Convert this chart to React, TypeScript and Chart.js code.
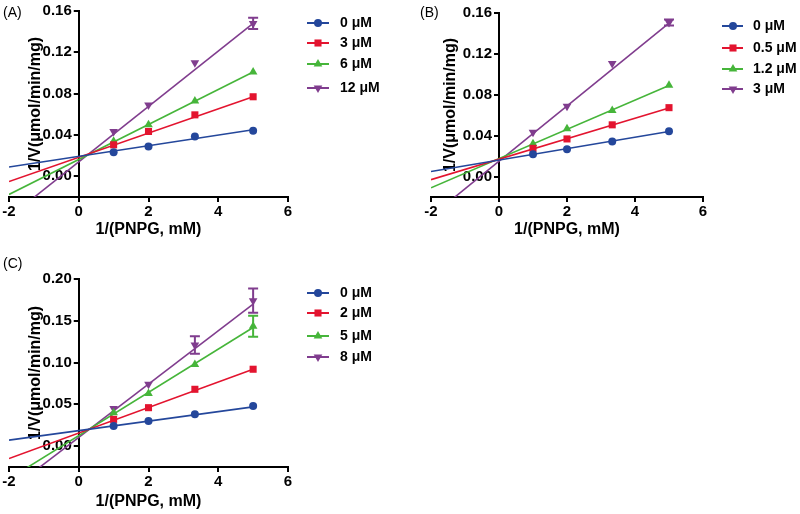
import React, { useEffect, useRef } from 'react';
import { Chart, registerables } from 'chart.js';
import { drawPoint } from 'chart.js/helpers';

Chart.register(...registerables);

const FONT = '"Liberation Sans", Arial, Helvetica, sans-serif';

// shared x values
const xPoints = [1, 2, 3.33, 5];
const fitX = [-2, 5];
const xTicks = [-2, 0, 2, 4, 6];

// Panel A
const labelsA = ['0 μM', '3 μM', '6 μM', '12 μM'];
const yA0 = [0.0234, 0.0289, 0.0386, 0.044];
const yA3 = [0.0305, 0.0434, 0.0595, 0.077];
const yA6 = [0.034, 0.05, 0.073, 0.101];
const yA12 = [0.0434, 0.069, 0.11, 0.148];
const errA12 = [0, 0, 0, 0.0055];
const fitA0 = [0.009, 0.045];
const fitA3 = [-0.005, 0.077];
const fitA6 = [-0.0175, 0.101];
const fitA12 = [-0.0396, 0.148];
const yTicksA = [0, 0.04, 0.08, 0.12, 0.16];

// Panel B
const labelsB = ['0 μM', '0.5 μM', '1.2 μM', '3 μM'];
const yB0 = [0.0217, 0.0266, 0.0342, 0.0443];
const yB05 = [0.0276, 0.0368, 0.0506, 0.0674];
const yB12 = [0.032, 0.0467, 0.0647, 0.0894];
const yB3 = [0.0433, 0.0687, 0.1107, 0.1507];
const errB3 = [0, 0, 0, 0.003];
const fitB0 = [0.005, 0.044];
const fitB05 = [-0.003, 0.067];
const fitB12 = [-0.011, 0.089];
const fitB3 = [-0.039, 0.15];
const yTicksB = [0, 0.04, 0.08, 0.12, 0.16];

// Panel C
const labelsC = ['0 μM', '2 μM', '5 μM', '8 μM'];
const yC0 = [0.024, 0.03, 0.038, 0.048];
const yC2 = [0.032, 0.046, 0.068, 0.092];
const yC5 = [0.04, 0.063, 0.0978, 0.1435];
const yC8 = [0.045, 0.074, 0.121, 0.174];
const errC5 = [0, 0, 0, 0.0125];
const errC8 = [0, 0, 0.0105, 0.0145];
const fitC0 = [0.0072, 0.047];
const fitC2 = [-0.0148, 0.092];
const fitC5 = [-0.0392, 0.142];
const fitC8 = [-0.0534, 0.17];
const yTicksC = [0, 0.05, 0.1, 0.15, 0.2];

const COLORS = ['#24479b', '#e3142f', '#46b53a', '#803d8e'];
const STYLES = ['circle', 'rect', 'triangle', 'triangle'];
const ROTS = [0, 0, 0, 180];
const RADII = [4, 5, 5, 5];

type Series = { label: string; ys: number[]; err?: number[]; fit: number[] };
type Cfg = {
  id: string;
  left: number; top: number; width: number; height: number;
  area: { l: number; r: number; t: number; b: number };
  yMin: number; yMax: number; yTicks: number[];
  yTitleX: number; xTitleY: number;
  panelLabel: string; labelX: number; labelY: number;
  legend: { x1: number; x2: number; mx: number; tx: number; rows: number[] };
  series: Series[];
};

const panels: Cfg[] = [
  {
    id: 'A', left: 0, top: 0, width: 400, height: 257,
    area: { l: 9, r: 288, t: 9, b: 197 },
    yMin: -0.02, yMax: 0.16, yTicks: yTicksA,
    yTitleX: 36, xTitleY: 230,
    panelLabel: '(A)', labelX: 3, labelY: 13,
    legend: { x1: 307, x2: 329, mx: 318, tx: 340, rows: [23, 43, 64, 88] },
    series: [
      { label: labelsA[0], ys: yA0, fit: fitA0 },
      { label: labelsA[1], ys: yA3, fit: fitA3 },
      { label: labelsA[2], ys: yA6, fit: fitA6 },
      { label: labelsA[3], ys: yA12, err: errA12, fit: fitA12 },
    ],
  },
  {
    id: 'B', left: 400, top: 0, width: 400, height: 257,
    area: { l: 31, r: 303, t: 13, b: 197 },
    yMin: -0.02, yMax: 0.16, yTicks: yTicksB,
    yTitleX: 51, xTitleY: 230,
    panelLabel: '(B)', labelX: 20, labelY: 13,
    legend: { x1: 322, x2: 343, mx: 333, tx: 353, rows: [26, 48, 69, 89] },
    series: [
      { label: labelsB[0], ys: yB0, fit: fitB0 },
      { label: labelsB[1], ys: yB05, fit: fitB05 },
      { label: labelsB[2], ys: yB12, fit: fitB12 },
      { label: labelsB[3], ys: yB3, err: errB3, fit: fitB3 },
    ],
  },
  {
    id: 'C', left: 0, top: 257, width: 400, height: 257,
    area: { l: 9, r: 288, t: 22, b: 210 },
    yMin: -0.025, yMax: 0.2, yTicks: yTicksC,
    yTitleX: 36, xTitleY: 244.7,
    panelLabel: '(C)', labelX: 3, labelY: 7,
    legend: { x1: 307, x2: 329, mx: 318, tx: 340, rows: [36, 56, 79, 100] },
    series: [
      { label: labelsC[0], ys: yC0, fit: fitC0 },
      { label: labelsC[1], ys: yC2, fit: fitC2 },
      { label: labelsC[2], ys: yC5, err: errC5, fit: fitC5 },
      { label: labelsC[3], ys: yC8, err: errC8, fit: fitC8 },
    ],
  },
];

const Y_BOX = 70;
const TITLE_LH = 16 * 1.2;

function Panel({ cfg }: { cfg: Cfg }) {
  const ref = useRef<HTMLCanvasElement>(null);
  useEffect(() => {
    const canvas = ref.current!;
    const datasets: any[] = [];
    cfg.series.forEach((s, i) => {
      datasets.push({
        label: s.label + ' fit',
        data: fitX.map((x, k) => ({ x, y: s.fit[k] })),
        showLine: true,
        borderColor: COLORS[i],
        borderWidth: 1.6,
        pointRadius: 0,
        fill: false,
        order: 2,
      });
    });
    cfg.series.forEach((s, i) => {
      datasets.push({
        label: s.label,
        data: xPoints.map((x, k) => ({ x, y: s.ys[k] })),
        showLine: false,
        backgroundColor: COLORS[i],
        borderColor: COLORS[i],
        pointStyle: STYLES[i],
        rotation: ROTS[i],
        pointRadius: RADII[i],
        pointBorderWidth: 0,
        order: 1,
      });
    });

    const axisPx = cfg.area.l + ((0 - xTicks[0]) / (xTicks[xTicks.length - 1] - xTicks[0])) * (cfg.area.r - cfg.area.l);
    const yTitlePad = cfg.yTitleX - (axisPx - Y_BOX) - TITLE_LH / 2;
    const xTitlePad = cfg.height - cfg.xTitleY - TITLE_LH / 2;

    const overlay = {
      id: 'overlay' + cfg.id,
      afterLayout(chart: any) {
        const xs = chart.scales.x;
        const ys = chart.scales.y;
        const px = xs.getPixelForValue(0);
        ys.left = px - Y_BOX;
        ys.right = px;
        ys.width = Y_BOX;
      },
      afterDatasetsDraw(chart: any) {
        const ctx = chart.ctx;
        const xs = chart.scales.x;
        const ys = chart.scales.y;
        cfg.series.forEach((s, i) => {
          if (!s.err) return;
          s.err.forEach((e, k) => {
            if (!e) return;
            const px = xs.getPixelForValue(xPoints[k]);
            const top = ys.getPixelForValue(s.ys[k] + e);
            const bot = ys.getPixelForValue(s.ys[k] - e);
            ctx.save();
            ctx.strokeStyle = COLORS[i];
            ctx.lineWidth = 2;
            ctx.beginPath();
            ctx.moveTo(px, top);
            ctx.lineTo(px, bot);
            ctx.moveTo(px - 5, top);
            ctx.lineTo(px + 5, top);
            ctx.moveTo(px - 5, bot);
            ctx.lineTo(px + 5, bot);
            ctx.stroke();
            ctx.restore();
          });
        });
      },
      afterDraw(chart: any) {
        const ctx = chart.ctx;
        ctx.save();
        // panel label
        ctx.fillStyle = '#000';
        ctx.font = `14px ${FONT}`;
        ctx.textAlign = 'left';
        ctx.textBaseline = 'middle';
        ctx.fillText(cfg.panelLabel, cfg.labelX, cfg.labelY);
        // legend
        const lg = cfg.legend;
        cfg.series.forEach((s, i) => {
          const y = lg.rows[i];
          ctx.strokeStyle = COLORS[i];
          ctx.lineWidth = 2;
          ctx.beginPath();
          ctx.moveTo(lg.x1, y);
          ctx.lineTo(lg.x2, y);
          ctx.stroke();
          ctx.fillStyle = COLORS[i];
          ctx.strokeStyle = COLORS[i];
          drawPoint(ctx, { pointStyle: STYLES[i], rotation: ROTS[i], radius: RADII[i], borderWidth: 0 } as any, lg.mx, y);
          ctx.fillStyle = '#000';
          ctx.font = `bold 14px ${FONT}`;
          ctx.textAlign = 'left';
          ctx.textBaseline = 'middle';
          ctx.fillText(s.label, lg.tx, y);
        });
        ctx.restore();
      },
    };

    const tickFont = { family: FONT, size: 15, weight: 'bold' as const };
    const titleFont = { family: FONT, size: 16, weight: 'bold' as const };

    const chart = new Chart(canvas, {
      type: 'scatter',
      data: { datasets },
      options: {
        animation: false,
        responsive: false,
        devicePixelRatio: 1,
        events: [],
        layout: {
          padding: {
            left: cfg.area.l,
            right: cfg.width - cfg.area.r,
            top: cfg.area.t,
            bottom: 0,
          },
        },
        plugins: {
          legend: { display: false },
          tooltip: { enabled: false },
          title: { display: false },
        },
        scales: {
          x: {
            type: 'linear',
            position: 'bottom',
            min: xTicks[0],
            max: xTicks[xTicks.length - 1],
            afterBuildTicks: (s: any) => {
              s.ticks = xTicks.map((v) => ({ value: v }));
            },
            afterFit: (s: any) => {
              s.height = cfg.height - cfg.area.b;
            },
            ticks: {
              font: tickFont,
              color: '#000',
              padding: 1,
              maxRotation: 0,
              callback: (v: any) => String(v),
            },
            grid: { drawOnChartArea: false, drawTicks: true, tickLength: 5, color: '#000', lineWidth: 2 },
            border: { display: true, color: '#000', width: 2 },
            title: {
              display: true,
              text: '1/(PNPG, mM)',
              font: titleFont,
              color: '#000',
              padding: { top: 0, bottom: xTitlePad },
            },
          },
          y: {
            type: 'linear',
            position: 'left',
            min: cfg.yMin,
            max: cfg.yMax,
            afterBuildTicks: (s: any) => {
              s.ticks = cfg.yTicks.map((v) => ({ value: v }));
            },
            afterFit: (s: any) => {
              s.width = 0;
            },
            ticks: {
              font: tickFont,
              color: '#000',
              padding: 2,
              callback: (v: any) => Number(v).toFixed(2),
            },
            grid: { drawOnChartArea: false, drawTicks: true, tickLength: 5, color: '#000', lineWidth: 2 },
            border: { display: true, color: '#000', width: 2 },
            title: {
              display: true,
              text: '1/V(μmol/min/mg)',
              font: titleFont,
              color: '#000',
              padding: { top: yTitlePad, bottom: 0 },
            },
          },
        },
      },
      plugins: [overlay],
    } as any);
    return () => chart.destroy();
  }, [cfg]);

  return (
    <canvas
      ref={ref}
      width={cfg.width}
      height={cfg.height}
      style={{ position: 'absolute', left: cfg.left, top: cfg.top, width: cfg.width, height: cfg.height }}
    />
  );
}

export default function App() {
  return (
    <div style={{ position: 'absolute', left: 0, top: 0, width: 800, height: 514, background: '#fff', overflow: 'hidden' }}>
      {panels.map((p) => (
        <Panel key={p.id} cfg={p} />
      ))}
    </div>
  );
}
